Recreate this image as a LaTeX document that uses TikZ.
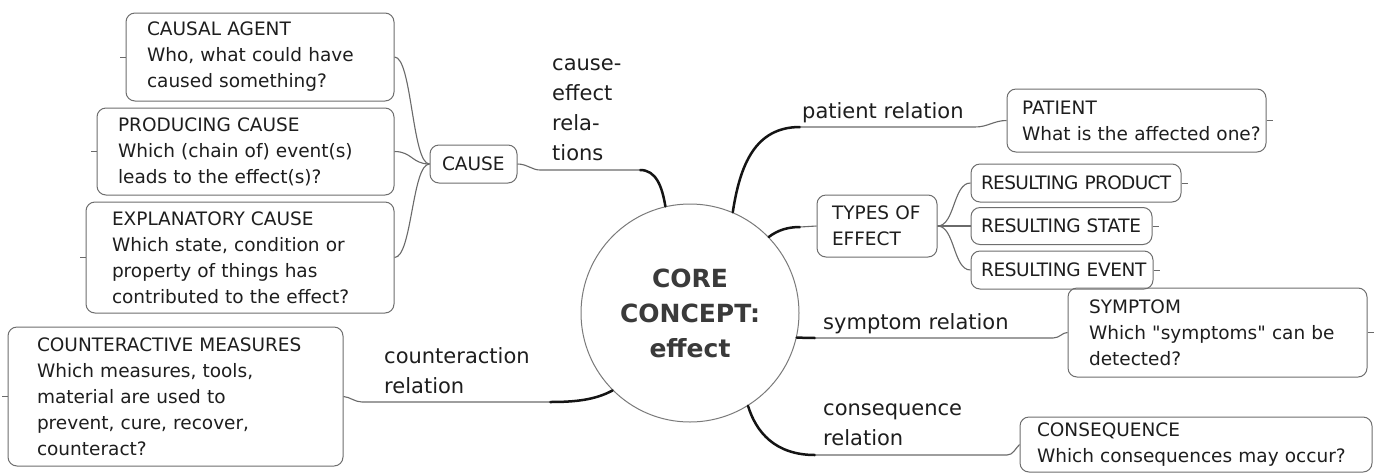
\documentclass[tikz,border=0pt]{standalone}
\usepackage{fontspec}
\setmainfont{DejaVu Sans}
\newfontfamily\qfont{DejaVu Sans}[Ligatures=TeXOff]
\definecolor{txtc}{HTML}{1E1E1E}
\definecolor{bordc}{HTML}{6E6E6E}
\definecolor{linec}{HTML}{6A6A6A}
\definecolor{darkc}{HTML}{141414}
\definecolor{circc}{HTML}{7A7A7A}
\definecolor{corec}{HTML}{3A3A3A}
\newcommand\bxfont{\fontsize{18.5}{26}\selectfont}
\newcommand\lblfont{\fontsize{21}{30}\selectfont}
\newcommand\corefont{\bfseries\fontsize{25}{35}\selectfont}
\newcommand\lns[1]{\begin{tabular}[t]{@{}l@{}}#1\end{tabular}}
\newcommand\ml[1]{\mbox{#1}}
\newcommand\sq{{\qfont\symbol{34}}}
\tikzset{
  bx/.style={draw=bordc, line width=1pt, rounded corners=9pt, align=left, font=\bxfont, text=txtc, inner ysep=0pt},
  lbl/.style={font=\lblfont, text=txtc, inner sep=0pt},
  conn/.style={draw=linec, line width=1.1pt},
  branch/.style={draw=darkc, line width=2.5pt, line cap=round},
  stub/.style={draw=linec, line width=1pt}
}
\begin{document}
\begin{tikzpicture}[x=1pt,y=-1pt]
\fill[white] (0,0) rectangle (1374,475);
\useasboundingbox (0,0) rectangle (1374,475);

% core
\node[circle, draw=circc, line width=1pt, minimum size=218pt, inner sep=0pt, font=\corefont, text=corec, align=center] (core) at (690,313) {CORE\\CONCEPT:\\effect};

% left boxes
\node[bx, text width=226pt, inner xsep=21pt, minimum height=88pt] (agent) at (260,57)
  {\ml{CAUSAL AGENT}\\\ml{Who, what could have}\\\ml{caused something?}};
\node[bx, text width=255pt, inner xsep=21pt, minimum height=87pt] (producing) at (245.5,151.5)
  {\ml{PRODUCING CAUSE}\\\ml{Which (chain of) event(s)}\\\ml{leads to the effect(s)?}};
\node[bx, text width=256pt, inner xsep=26pt, minimum height=111pt] (explanatory) at (240,257.5)
  {\ml{EXPLANATORY CAUSE}\\\ml{Which state, condition or}\\\ml{property of things has}\\\ml{contributed to the effect?}};
\node[bx, text width=63pt, inner xsep=12pt, minimum height=38pt] (cause) at (473.5,164) {\ml{CAUSE}};
\node[bx, text width=277pt, inner xsep=29pt, minimum height=139pt] (counter) at (175.5,396.5)
  {\ml{COUNTERACTIVE MEASURES}\\\ml{Which measures, tools,}\\\ml{material are used to}\\\ml{prevent, cure, recover,}\\\ml{counteract?}};

% right boxes
\node[bx, text width=229pt, inner xsep=15pt, minimum height=63pt] (patient) at (1136.5,120.5)
  {\ml{PATIENT}\\\ml{What is the affected one?}};
\node[bx, text width=90pt, inner xsep=15pt, minimum height=62pt] (types) at (877,226)
  {\ml{TYPES OF}\\\ml{EFFECT}};
\node[bx, text width=190pt, inner xsep=10pt, minimum height=38pt] (product) at (1076,183) {\ml{\addfontfeature{LetterSpace=-3.5}RESULTING PRODUCT}};
\node[bx, text width=161pt, inner xsep=10pt, minimum height=37pt] (state) at (1061.5,226) {\ml{\addfontfeature{LetterSpace=-2}RESULTING STATE}};
\node[bx, text width=162pt, inner xsep=10pt, minimum height=38pt] (event) at (1062,270) {\ml{\addfontfeature{LetterSpace=-2}RESULTING EVENT}};
\node[bx, text width=257pt, inner xsep=21pt, minimum height=89pt] (symptom) at (1217.5,332.5)
  {\ml{SYMPTOM}\\\ml{Which \sq symptoms\sq{} can be}\\\ml{detected?}};
\node[bx, text width=318pt, inner xsep=17pt, minimum height=55pt] (conseq) at (1196,444.5)
  {\ml{CONSEQUENCE}\\\ml{Which consequences may occur?}};

% labels
\node[lbl, anchor=base west] (celab) at (552,70) {\lns{cause-\\effect\\rela-\\tions}};
\node[lbl, anchor=base west] (plab) at (802,118) {patient relation};
\node[lbl, anchor=base west] (slab) at (823,329) {symptom relation};
\node[lbl, anchor=base west] (qlab) at (823,415) {\lns{consequence\\relation}};
\node[lbl, anchor=base west] (clab) at (384,363) {\lns{counteraction\\relation}};

% cause subtree
\draw[conn] (cause.west) .. controls (412,164) and (412,57) .. (agent.east);
\draw[conn] (cause.west) .. controls (412,164) and (412,151.5) .. (producing.east);
\draw[conn] (cause.west) .. controls (412,164) and (412,257.5) .. (explanatory.east);

% cause-effect branch
\coordinate (ce1) at (640,170);
\coordinate (ce2) at (540,170);
\draw[branch] (core.103) .. controls (662,186) and (656,170) .. (ce1);
\draw[conn] (ce1) -- (ce2) .. controls (532,170) and (527,164) .. (cause.east);

% patient branch
\coordinate (p1) at (800,127);
\coordinate (p2) at (975,127);
\draw[branch] (core.67) .. controls (740,165) and (755,127) .. (p1);
\draw[conn] (p1) -- (p2) .. controls (988,127) and (994,120.5) .. (patient.west);

% types branch
\coordinate (t1) at (800,227);
\draw[branch] (core.44) .. controls (778,230) and (788,227) .. (t1);
\draw[conn] (t1) -- (types.west);
\draw[conn] (types.east) .. controls (955,226) and (953,183) .. (product.west);
\draw[conn] (types.east) -- (state.west);
\draw[conn] (types.east) .. controls (955,226) and (953,270) .. (event.west);

% symptom branch
\coordinate (s1) at (815,338);
\coordinate (s2) at (1053,338);
\draw[branch] (core.-13) -- (s1);
\draw[conn] (s1) -- (s2) .. controls (1060,338) and (1062,332.5) .. (symptom.west);

% consequence branch
\coordinate (q1) at (815,455);
\coordinate (q2) at (1007,455);
\draw[branch] (core.-58) .. controls (756,432) and (775,455) .. (q1);
\draw[conn] (q1) -- (q2) .. controls (1013,455) and (1015,449) .. (conseq.west);

% counteraction branch
\coordinate (c1) at (550,402);
\coordinate (c2) at (362,402);
\draw[branch] (core.-135) .. controls (595,400) and (575,402) .. (c1);
\draw[conn] (c1) -- (c2) .. controls (355,402) and (350,397) .. (counter.east);

% collapse stubs
\draw[stub] (agent.west) -- ++(-6,0);
\draw[stub] (producing.west) -- ++(-6,0);
\draw[stub] (explanatory.west) -- ++(-6,0);
\draw[stub] (counter.west) -- ++(-6,0);
\draw[stub] (patient.east) -- ++(6,0);
\draw[stub] (product.east) -- ++(6,0);
\draw[stub] (state.east) -- ++(6,0);
\draw[stub] (event.east) -- ++(6,0);
\draw[stub] (symptom.east) -- ++(6,0);
\end{tikzpicture}
\end{document}
